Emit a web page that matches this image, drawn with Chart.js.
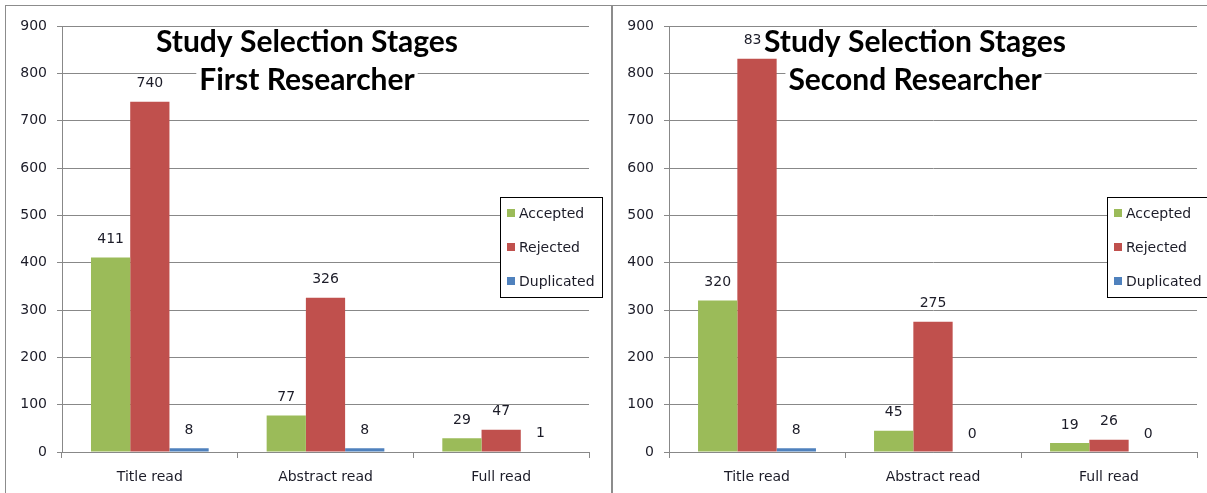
<!DOCTYPE html>
<html>
<head>
<meta charset="utf-8">
<script src="https://cdn.jsdelivr.net/npm/chart.js@4.4.1/dist/chart.umd.min.js"></script>
<style>
  html, body { margin: 0; padding: 0; background: #ffffff; overflow: hidden; }
  body { width: 1207px; height: 493px; position: relative; }
  .panel { position: absolute; top: 5px; border: 1px solid #8c8c8c; background: #fff; overflow: hidden; }
  #p1 { left: 5px; width: 605px; height: 500px; }
  #p2 { left: 612px; width: 606px; height: 500px; }
  canvas { display: block; }
</style>
</head>
<body>
<div class="panel" id="p1"><canvas id="c1" width="605" height="488"></canvas></div>
<div class="panel" id="p2"><canvas id="c2" width="606" height="488"></canvas></div>
<script>
// Selection stages shown on the x axis
const stages = ["Title read", "Abstract read", "Full read"];
const seriesNames = ["Accepted", "Rejected", "Duplicated"];
const seriesColors = ["#9BBB59", "#C0504D", "#4F81BD"];

// First researcher counts per stage
const firstAccepted = [411, 77, 29];
const firstRejected = [740, 326, 47];
const firstDuplicated = [8, 8, 1];

// Second researcher counts per stage
const secondAccepted = [320, 45, 19];
const secondRejected = [831, 275, 26];
const secondDuplicated = [8, 0, 0];

// Value axis ticks
const yTicks = [0, 100, 200, 300, 400, 500, 600, 700, 800, 900];

const firstTitle = ["Study Selection Stages", "First Researcher"];
const secondTitle = ["Study Selection Stages", "Second Researcher"];

const SMALL_FONT = "14px 'DejaVu Sans'";
const TEXT_COLOR = "#1c1c28";
const LINE_COLOR = "#888888";

// Value labels above every bar
const valueLabels = {
  id: "valueLabels",
  afterDatasetsDraw(chart) {
    const ctx = chart.ctx;
    ctx.save();
    ctx.font = SMALL_FONT;
    ctx.fillStyle = TEXT_COLOR;
    ctx.textAlign = "center";
    ctx.textBaseline = "middle";
    chart.data.datasets.forEach((ds, i) => {
      chart.getDatasetMeta(i).data.forEach((bar, j) => {
        ctx.fillText(String(ds.data[j]), bar.x, bar.y - 18);
      });
    });
    ctx.restore();
  }
};

// Overlay title and boxed legend drawn on top of the plot
const overlay = {
  id: "overlay",
  afterDraw(chart, args, opts) {
    const ctx = chart.ctx;
    ctx.save();
    // title, each line on its own white box
    ctx.font = "bold 30px Lato";
    ctx.textAlign = "center";
    ctx.textBaseline = "middle";
    const cx = opts.titleX;
    opts.title.forEach((line, k) => {
      const y = 36 + k * 38;
      const w = ctx.measureText(line).width;
      ctx.fillStyle = "#ffffff";
      ctx.fillRect(cx - w / 2 - 3, y - 13, w + 6, 29);
      ctx.fillStyle = "#000000";
      ctx.fillText(line, cx, y);
    });
    // legend box
    const lx = 494, ly = 191, lw = 102, lh = 100;
    ctx.fillStyle = "#ffffff";
    ctx.fillRect(lx, ly, lw, lh);
    ctx.strokeStyle = "#000000";
    ctx.lineWidth = 1;
    ctx.strokeRect(lx + 0.5, ly + 0.5, lw, lh);
    ctx.font = SMALL_FONT;
    ctx.textAlign = "left";
    chart.data.datasets.forEach((ds, i) => {
      const y = ly + 16 + i * 34;
      ctx.fillStyle = ds.backgroundColor;
      ctx.fillRect(lx + 7, y - 4, 8, 8);
      ctx.fillStyle = TEXT_COLOR;
      ctx.fillText(ds.label, lx + 19, y + 1);
    });
    ctx.restore();
  }
};

function makeChart(id, accepted, rejected, duplicated, title, titleX) {
  const values = [accepted, rejected, duplicated];
  return new Chart(document.getElementById(id), {
    type: "bar",
    data: {
      labels: stages,
      datasets: seriesNames.map((name, i) => ({
        label: name,
        data: values[i],
        backgroundColor: seriesColors[i],
        borderWidth: 0,
        categoryPercentage: 0.67,
        barPercentage: 1.0
      }))
    },
    options: {
      responsive: false,
      animation: false,
      devicePixelRatio: 1,
      layout: { padding: { left: 6, right: 22, top: 20, bottom: 0 } },
      plugins: {
        legend: { display: false },
        title: { display: false },
        tooltip: { enabled: false },
        overlay: { title: title, titleX: titleX }
      },
      scales: {
        x: {
          grid: { offset: true, drawOnChartArea: false, drawTicks: true, tickLength: 6, color: LINE_COLOR },
          border: { color: LINE_COLOR, width: 1 },
          ticks: { color: TEXT_COLOR, font: { family: "DejaVu Sans", size: 14 }, padding: 11, maxRotation: 0 },
          afterFit(scale) { scale.height = 42; }
        },
        y: {
          min: 0,
          max: yTicks[yTicks.length - 1],
          afterBuildTicks(scale) { scale.ticks = yTicks.map(v => ({ value: v })); },
          grid: { color: LINE_COLOR, lineWidth: 1, tickLength: 5 },
          border: { color: LINE_COLOR, width: 1 },
          ticks: { color: TEXT_COLOR, font: { family: "DejaVu Sans", size: 14 }, padding: 10 },
          afterFit(scale) { scale.width = 50; }
        }
      }
    },
    plugins: [valueLabels, overlay]
  });
}

makeChart("c1", firstAccepted, firstRejected, firstDuplicated, firstTitle, 301);
makeChart("c2", secondAccepted, secondRejected, secondDuplicated, secondTitle, 302);
</script>
</body>
</html>
